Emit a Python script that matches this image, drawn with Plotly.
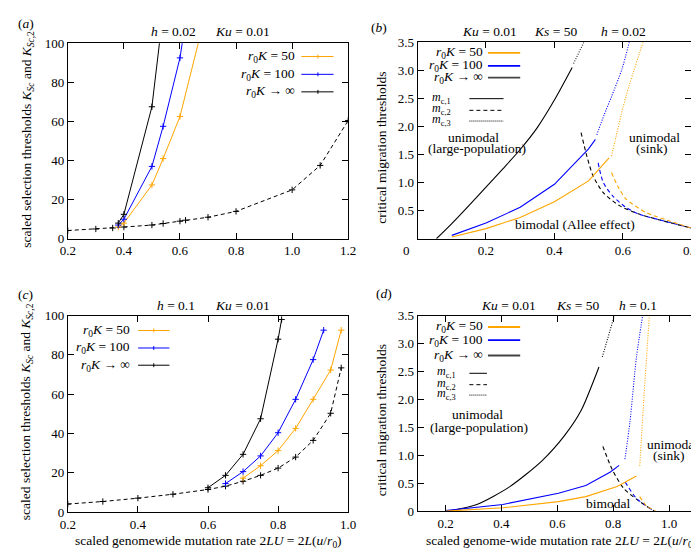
import plotly.graph_objects as go

W, H = 699, 552
FONT = "Liberation Serif"
ORANGE = "#FFA500"
BLUE = "#0000FF"
BLACK = "#000000"
FS = 13.5

# ---------------- panel (a): h = 0.02, Ku = 0.01 ----------------
a_x_50 = [0.38, 0.40, 0.50, 0.54, 0.60, 0.70]
a_y_50 = [6, 8, 27.5, 41, 62.5, 120]
a_x_100 = [0.38, 0.40, 0.50, 0.54, 0.60, 0.62]
a_y_100 = [7, 10, 37, 57.5, 92.5, 111]
a_x_inf = [0.38, 0.40, 0.50, 0.55]
a_y_inf = [8, 12.5, 67.5, 128]
a_x_sc2 = [0.2, 0.3, 0.36, 0.4, 0.5, 0.54, 0.6, 0.62, 0.7, 0.8, 1.0, 1.1, 1.2]
a_y_sc2 = [4.2, 5, 5.5, 6, 7, 7.8, 9, 9.5, 11, 14, 25, 37.5, 60.5]

# ---------------- panel (c): h = 0.1, Ku = 0.01 ----------------
c_x_50 = [0.70, 0.75, 0.80, 0.85, 0.90, 0.95, 0.98]
c_y_50 = [17.3, 23.6, 31.3, 42.6, 57.4, 72.3, 92.6]
c_x_100 = [0.65, 0.70, 0.75, 0.80, 0.85, 0.90, 0.93]
c_y_100 = [14.5, 20.6, 28.6, 40.4, 57.4, 77.6, 92.6]
c_x_inf = [0.60, 0.65, 0.70, 0.75, 0.80, 0.81]
c_y_inf = [12.4, 18.7, 29.4, 47.5, 88, 98]
c_x_sc2 = [0.2, 0.3, 0.4, 0.5, 0.6, 0.65, 0.7, 0.75, 0.8, 0.85, 0.9, 0.95, 0.98]
c_y_sc2 = [4.1, 5.4, 7.1, 9.1, 11.5, 13.2, 15.7, 18.7, 22.4, 28, 36.5, 50.3, 73.4]

# ---------------- panel (b): Ku = 0.01, Ks = 50, h = 0.02 ----------------
b_inf_mc1_x = [0.055, 0.1, 0.15, 0.2, 0.25, 0.3, 0.35, 0.4, 0.452]
b_inf_mc1_y = [0, 0.27, 0.59, 0.92, 1.25, 1.59, 1.98, 2.47, 3.05]
b_inf_mc3_x = [0.456, 0.49]
b_inf_mc3_y = [3.12, 3.55]
b_inf_mc2_x = [0.478, 0.495, 0.513, 0.543, 0.59, 0.647, 0.705, 0.8]
b_inf_mc2_y = [1.89, 1.47, 1.12, 0.82, 0.59, 0.44, 0.34, 0.19]
b_100_mc1_x = [0.1, 0.2, 0.3, 0.4, 0.5, 0.52]
b_100_mc1_y = [0.06, 0.28, 0.56, 0.97, 1.6, 1.77]
b_100_mc3_x = [0.524, 0.545, 0.567, 0.598, 0.621]
b_100_mc3_y = [1.85, 2.2, 2.53, 3.03, 3.55]
b_100_mc2_x = [0.528, 0.543, 0.571, 0.609, 0.647, 0.705, 0.8]
b_100_mc2_y = [1.35, 1.0, 0.76, 0.56, 0.44, 0.34, 0.19]
b_50_mc1_x = [0.1, 0.2, 0.3, 0.4, 0.5, 0.56]
b_50_mc1_y = [0.03, 0.18, 0.38, 0.66, 1.03, 1.44]
b_50_mc3_x = [0.567, 0.609, 0.662]
b_50_mc3_y = [1.47, 2.53, 3.55]
b_50_mc2_x = [0.567, 0.585, 0.609, 0.667, 0.73, 0.8]
b_50_mc2_y = [1.18, 0.94, 0.71, 0.47, 0.33, 0.19]

# ---------------- panel (d): Ku = 0.01, Ks = 50, h = 0.1 ----------------
d_inf_mc1_x = [0.21, 0.312, 0.429, 0.545, 0.627, 0.685, 0.749]
d_inf_mc1_y = [0, 0.12, 0.435, 0.9, 1.36, 1.8, 2.58]
d_inf_mc3_x = [0.761, 0.807]
d_inf_mc3_y = [2.76, 3.55]
d_inf_mc2_x = [0.763, 0.796, 0.837, 0.895, 0.947]
d_inf_mc2_y = [1.16, 0.75, 0.41, 0.17, 0]
d_100_mc1_x = [0.2, 0.405, 0.604, 0.702, 0.79, 0.821]
d_100_mc1_y = [0.01, 0.12, 0.32, 0.46, 0.7, 0.82]
d_100_mc3_x = [0.842, 0.86, 0.883, 0.907]
d_100_mc3_y = [0.93, 1.6, 2.75, 3.55]
d_100_mc2_x = [0.843, 0.883, 0.947]
d_100_mc2_y = [0.52, 0.23, 0]
d_50_mc1_x = [0.2, 0.405, 0.604, 0.702, 0.814, 0.883]
d_50_mc1_y = [0, 0.06, 0.17, 0.26, 0.44, 0.63]
d_50_mc3_x = [0.895, 0.912, 0.93]
d_50_mc3_y = [0.81, 2.2, 3.55]
d_50_mc2_x = [0.895, 0.918, 0.953]
d_50_mc2_y = [0.26, 0.1, 0]

legend_r0K = ["<i>r</i><sub>0</sub><i>K</i> = 50",
              "<i>r</i><sub>0</sub><i>K</i> = 100",
              "<i>r</i><sub>0</sub><i>K</i> → ∞"]
legend_mc = ["<i>m</i><sub>c,1</sub>", "<i>m</i><sub>c,2</sub>", "<i>m</i><sub>c,3</sub>"]


def X(p):
    return p / W


def Y(p):
    return 1 - p / H


fig = go.Figure()

DASH = "4px,3px"
DOT = "1px,1.5px"


def add(xs, ys, color, axis, dash="solid", markers=False, width=1.1, smooth=False):
    mode = "lines+markers" if markers else "lines"
    line = dict(color=color, width=width, dash=dash)
    if smooth:
        line.update(shape="spline", smoothing=0.7)
    fig.add_trace(go.Scatter(
        x=xs, y=ys, mode=mode, xaxis="x" + axis, yaxis="y" + axis,
        line=line,
        marker=dict(symbol="cross-thin", size=4.5, line=dict(width=1, color=color)),
        showlegend=False, hoverinfo="skip"))


# panel a (axis "")
add(a_x_sc2, a_y_sc2, BLACK, "", DASH, True, 1)
add(a_x_50, a_y_50, ORANGE, "", "solid", True, 1)
add(a_x_100, a_y_100, BLUE, "", "solid", True, 1)
add(a_x_inf, a_y_inf, BLACK, "", "solid", True, 1)
# panel c (axis "3")
add(c_x_sc2, c_y_sc2, BLACK, "3", DASH, True, 1)
add(c_x_50, c_y_50, ORANGE, "3", "solid", True, 1)
add(c_x_100, c_y_100, BLUE, "3", "solid", True, 1)
add(c_x_inf, c_y_inf, BLACK, "3", "solid", True, 1)
# panel b (axis "2")
add(b_inf_mc1_x, b_inf_mc1_y, BLACK, "2", smooth=True)
add(b_inf_mc3_x, b_inf_mc3_y, BLACK, "2", DOT)
add(b_inf_mc2_x, b_inf_mc2_y, BLACK, "2", DASH, smooth=True)
add(b_100_mc1_x, b_100_mc1_y, BLUE, "2")
add(b_100_mc3_x, b_100_mc3_y, BLUE, "2", DOT, smooth=True)
add(b_100_mc2_x, b_100_mc2_y, BLUE, "2", DASH, smooth=True)
add(b_50_mc1_x, b_50_mc1_y, ORANGE, "2")
add(b_50_mc3_x, b_50_mc3_y, ORANGE, "2", DOT, smooth=True)
add(b_50_mc2_x, b_50_mc2_y, ORANGE, "2", DASH, smooth=True)
# panel d (axis "4")
add(d_inf_mc1_x, d_inf_mc1_y, BLACK, "4", smooth=True)
add(d_inf_mc3_x, d_inf_mc3_y, BLACK, "4", DOT)
add(d_inf_mc2_x, d_inf_mc2_y, BLACK, "4", DASH, smooth=True)
add(d_100_mc1_x, d_100_mc1_y, BLUE, "4")
add(d_100_mc3_x, d_100_mc3_y, BLUE, "4", DOT, smooth=True)
add(d_100_mc2_x, d_100_mc2_y, BLUE, "4", DASH, smooth=True)
add(d_50_mc1_x, d_50_mc1_y, ORANGE, "4")
add(d_50_mc3_x, d_50_mc3_y, ORANGE, "4", DOT, smooth=True)
add(d_50_mc2_x, d_50_mc2_y, ORANGE, "4", DASH, smooth=True)

tickfont = dict(family=FONT, size=13, color="black")


def axis(domain, rng, tickvals, ticktext, anchor):
    return dict(domain=domain, range=rng, tickvals=tickvals, ticktext=ticktext,
                anchor=anchor, showline=True, linecolor="black", linewidth=1,
                mirror="ticks", ticks="inside", ticklen=6, tickcolor="black",
                showgrid=False, zeroline=False, tickfont=tickfont)


xa_ticks = [0.2, 0.4, 0.6, 0.8, 1.0, 1.2]
xa_text = ["0.2", "0.4", "0.6", "0.8", "1.0", "1.2"]
yac_ticks = [0, 20, 40, 60, 80, 100]
yac_text = ["0", "20", "40", "60", "80", "100"]
xb_ticks = [0.2, 0.4, 0.6, 0.8]
xb_text = ["0.2", "0.4", "0.6", "0.8"]
yb_ticks = [0.5, 1.0, 1.5, 2.0, 2.5, 3.0, 3.5]
yb_text = ["0.5", "1.0", "1.5", "2.0", "2.5", "3.0", "3.5"]
xc_ticks = [0.2, 0.4, 0.6, 0.8, 1.0]
xc_text = ["0.2", "0.4", "0.6", "0.8", "1.0"]
xd_ticks = [0.2, 0.4, 0.6, 0.8, 1.0]
xd_text = ["0.2", "0.4", "0.6", "0.8", "1.0"]
yd_ticks = [0, 0.5, 1.0, 1.5, 2.0, 2.5, 3.0, 3.5]
yd_text = ["0", "0.5", "1.0", "1.5", "2.0", "2.5", "3.0", "3.5"]

fig.update_layout(
    xaxis=axis([X(53), X(340)], [0.2, 1.2], xa_ticks, xa_text, "y"),
    yaxis=axis([Y(230), Y(29)], [0, 100], yac_ticks, yac_text, "x"),
    xaxis2=axis([X(411), X(691)], [0, 0.8], xb_ticks, xb_text, "y2"),
    yaxis2=axis([Y(230), Y(28)], [0, 3.5], yb_ticks, yb_text, "x2"),
    xaxis3=axis([X(53), X(340)], [0.2, 1.0], xc_ticks, xc_text, "y3"),
    yaxis3=axis([Y(511), Y(309)], [0, 100], yac_ticks, yac_text, "x3"),
    xaxis4=axis([X(411), X(697)], [0.1, 1.1], xd_ticks, xd_text, "y4"),
    yaxis4=axis([Y(510), Y(309)], [0, 3.5], yd_ticks, yd_text, "x4"),
)

ann = []
shapes = []


def text(s, x, y, size=FS, xanchor="center", angle=0):
    ann.append(dict(text=s, x=X(x), y=Y(y), xref="paper", yref="paper",
                    xanchor=xanchor, yanchor="middle", showarrow=False,
                    textangle=angle, font=dict(family=FONT, size=size, color="black")))


def seg(x0, x1, y, color, width=1, dash="solid"):
    shapes.append(dict(type="line", xref="paper", yref="paper",
                       x0=X(x0), x1=X(x1), y0=Y(y), y1=Y(y),
                       line=dict(color=color, width=width, dash=dash)))


def vtick(x, y, color):
    shapes.append(dict(type="line", xref="paper", yref="paper",
                       x0=X(x), x1=X(x), y0=Y(y - 2), y1=Y(y + 2),
                       line=dict(color=color, width=1)))


# panel labels
text("(<i>a</i>)", 10, 9)
text("(<i>b</i>)", 372, 13)
text("(<i>c</i>)", 10, 287)
text("(<i>d</i>)", 377, 286)

# titles
text("<i>h</i> = 0.02", 161, 17)
text("<i>Ku</i> = 0.01", 231.5, 17)
text("<i>Ku</i> = 0.01", 485, 17)
text("<i>Ks</i> = 50", 552.5, 17)
text("<i>h</i> = 0.02", 621.7, 17)
text("<i>h</i> = 0.1", 164, 299)
text("<i>Ku</i> = 0.01", 231.5, 299)
text("<i>Ku</i> = 0.01", 504, 299)
text("<i>Ks</i> = 50", 575, 299)
text("<i>h</i> = 0.1", 637, 299)

# axis titles
ytitle_ac = "scaled selection thresholds <i>K</i><sub><i>Sc</i></sub> and <i>K</i><sub><i>Sc</i>,2</sub>"
text(ytitle_ac, 11.5, 128, angle=-90)
text(ytitle_ac, 11.5, 408, angle=-90)
text("critical migration thresholds", 374, 136, angle=-90)
text("critical migration thresholds", 374, 416, angle=-90)
text("scaled genomewide mutation rate 2<i>LU</i> = 2<i>L</i>(<i>u</i>/<i>r</i><sub>0</sub>)", 197, 541)
text("scaled genome-wide mutation rate 2<i>LU</i> = 2<i>L</i>(<i>u</i>/<i>r</i><sub>0</sub>)", 558, 541)
text("0", 400, 241.7, size=13)

# region labels
text("unimodal", 468, 126)
text("(large-population)", 472, 137.5)
text("unimodal", 653, 126)
text("(sink)", 651, 137.5)
text("bimodal (Allee effect)", 572.5, 215)
text("unimodal", 472, 411)
text("(large-population)", 474, 424)
text("unimodal", 671.7, 441.7)
text("(sink)", 668, 453.3)
text("bimodal", 606, 501.7)

# legends (a) and (c)
cols = [ORANGE, BLUE, BLACK]
for i, (yy, lab) in enumerate(zip([42.7, 61, 79], legend_r0K)):
    text(lab, 288, yy, xanchor="right")
    seg(292, 325, yy, cols[i])
    vtick(309, yy, cols[i])
for i, (yy, lab) in enumerate(zip([324.3, 342.3, 360], legend_r0K)):
    text(lab, 119, yy, xanchor="right")
    seg(125, 157, yy, cols[i])
    vtick(141, yy, cols[i])

# legends (b) and (d)
lcols = [ORANGE, BLUE, "#444444"]
for i, (yy, lab) in enumerate(zip([39, 52.3, 64.3], legend_r0K)):
    text(lab, 480, yy, xanchor="right")
    seg(483, 516, yy, lcols[i], 1.8)
dashes = ["solid", "4px,3px", "1px,1px"]
for i, (yy, lab) in enumerate(zip([86, 98, 109], legend_mc)):
    text(lab, 435, yy - 1, size=12)
    seg(464, 499, yy, BLACK, 1, dashes[i])
for i, (yy, lab) in enumerate(zip([320.7, 334.3, 350], legend_r0K)):
    text(lab, 480, yy, xanchor="right")
    seg(483, 516, yy, lcols[i], 1.8)
for i, (yy, lab) in enumerate(zip([368.3, 380, 390.7], legend_mc)):
    text(lab, 441, yy - 1, size=12)
    seg(464, 482, yy, BLACK, 1, dashes[i])

fig.update_layout(
    width=W, height=H, autosize=False,
    margin=dict(l=0, r=0, t=0, b=0),
    paper_bgcolor="white", plot_bgcolor="white",
    annotations=ann, shapes=shapes,
    font=dict(family=FONT, size=FS, color="black"),
    showlegend=False,
)

fig.write_html("out.html")
